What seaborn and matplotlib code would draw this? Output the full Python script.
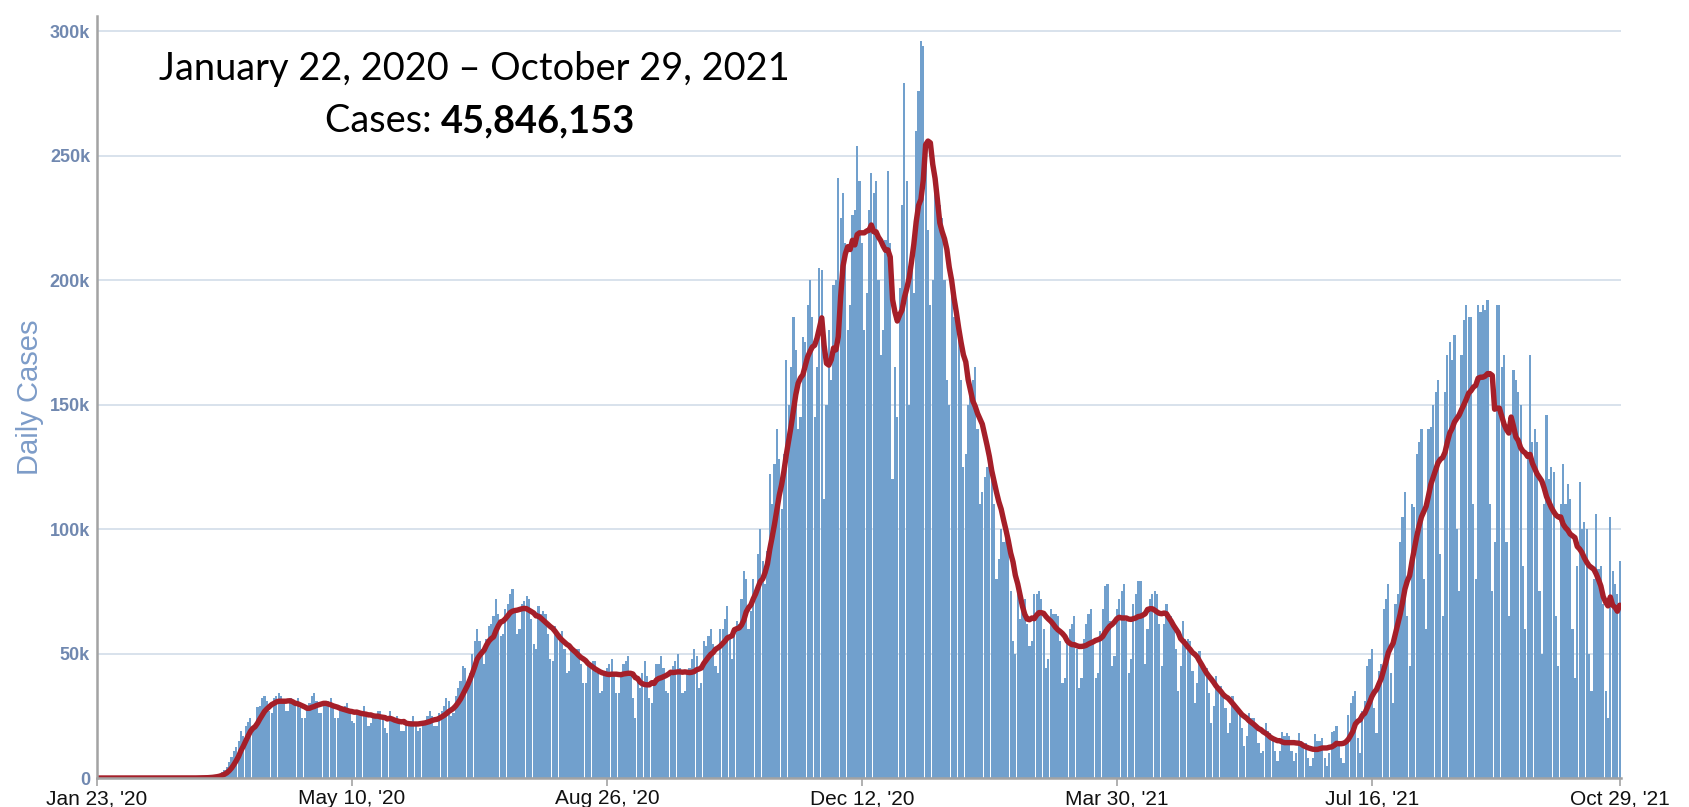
import numpy as np
import pandas as pd
import seaborn as sns
import matplotlib.pyplot as plt

start_date = '2020-01-22'

# daily reported cases in thousands, one row per week (Wed..Tue)
daily_k = [
    0, 0, 0, 0, 0, 0, 0,
    0, 0, 0, 0, 0, 0, 0,
    0, 0, 0, 0, 0, 0, 0,
    0, 0, 0, 0, 0, 0, 0,
    0, 0, 0, 0, 0, 0, 0,
    0.01, 0.01, 0.02, 0.02, 0.02, 0.03, 0.04,
    0.05, 0.06, 0.1, 0.1, 0.12, 0.2, 0.3,
    0.5, 0.6, 0.9, 1.2, 1.6, 2.6, 3.1,
    4.5, 6.5, 8.5, 11, 12.5, 15, 19,
    17, 21, 22.5, 24, 21, 20, 28.5,
    29, 32, 33, 31, 27, 26, 32,
    33, 34, 33, 31, 27, 27, 32,
    30, 30, 32, 28, 24, 24, 28,
    30, 33, 34, 31, 26, 26, 30,
    30, 31, 32, 28, 24, 24, 27,
    28, 29, 30, 26, 23, 22, 27.5,
    26, 27, 29, 25, 21, 22, 25,
    25, 27, 27, 24, 20, 18, 27,
    23, 24, 25, 22, 19, 19, 22,
    22, 23, 25, 22, 19, 20, 23,
    23, 25, 27, 25, 21, 21, 26,
    27, 29, 32, 31, 25, 26, 33,
    36, 39, 45, 44, 38, 42, 50,
    55, 60, 55, 52, 46, 56, 61,
    62, 65, 72, 66, 57, 58, 68,
    70, 74, 76, 68, 58, 60, 70,
    71, 73, 72, 64, 54, 52, 69,
    66, 67, 66, 58, 48, 47, 61,
    57, 58, 59, 52, 42, 43, 53,
    51, 52, 52, 46, 38, 38, 45,
    46, 47, 47, 42, 34, 35, 43,
    44, 46, 48, 42, 34, 34, 42.5,
    46, 47, 49, 42, 32, 24, 40,
    36, 42, 47, 41, 32, 30, 38,
    46, 46, 49, 44, 35, 34, 43.5,
    45, 47, 50, 44, 34, 35, 42.5,
    44, 48, 52, 49, 36, 38, 55,
    53, 57, 60, 54, 45, 42, 60,
    60, 64, 69, 57, 48, 59, 63,
    62, 72, 83, 80, 60, 67, 80,
    76, 90, 100, 87, 78, 91, 122,
    110, 126, 140, 128, 108, 130, 168,
    150, 165, 185, 172, 140, 145, 177,
    175, 190, 200, 185, 145, 165, 205,
    204, 112, 150, 180, 160, 198, 200,
    241, 225, 235, 215, 180, 190, 226,
    228, 254, 240, 215, 180, 195, 228,
    243, 235, 240, 200, 170, 180, 216,
    244, 215, 120, 165, 145, 197, 230,
    279, 240, 150, 210, 195, 260, 276,
    296, 294, 250, 220, 190, 200, 236,
    235, 230, 225, 200, 160, 150, 200,
    185, 190, 180, 160, 125, 130, 150,
    155, 160, 165, 140, 110, 115, 121,
    125, 128, 125, 110, 80, 88, 100,
    95, 100, 95, 75, 55, 50, 76,
    64, 68, 72, 62, 53, 55, 74,
    74, 75, 72, 60, 44, 48, 68,
    66, 66, 65, 55, 38, 40, 55,
    60, 62, 65, 52, 36, 40, 56,
    62, 66, 68, 55, 40, 42, 59,
    68, 77, 78, 63, 45, 49, 68,
    72, 75, 78, 63, 42, 48, 70,
    74, 79, 79, 66, 46, 60, 72,
    74, 75, 74, 62, 45, 62, 70,
    63, 65, 62, 52, 35, 45, 63,
    56, 56, 55, 43, 30, 38, 51,
    45, 44, 44, 34, 22, 29, 41,
    37, 37, 35, 28, 18, 22, 33,
    29, 29, 27, 20, 13, 17, 26,
    24, 24, 21, 14, 10, 11, 22,
    19, 18, 17, 11, 7, 11, 18.5,
    17, 18, 17, 11, 7, 10, 18,
    15, 13, 14, 8, 5, 8, 17.5,
    15, 15, 16, 8, 5, 10, 18.5,
    19, 21, 15, 8, 6, 14, 25.5,
    30, 33, 35, 16, 10, 27, 31,
    45, 48, 52, 28, 18, 43, 46,
    68, 72, 78, 42, 30, 70, 74,
    95, 105, 115, 65, 45, 110, 109,
    130, 135, 140, 80, 60, 140, 141,
    150, 155, 160, 90, 65, 155, 170,
    175, 168, 178, 100, 75, 170, 184,
    190, 185, 185, 110, 80, 190, 187,
    190, 188, 192, 110, 75, 95, 190,
    190, 165, 170, 95, 65, 140, 164,
    160, 155, 150, 85, 60, 130, 170,
    135, 140, 135, 75, 50, 110, 146,
    120, 125, 123, 65, 45, 110, 126,
    110, 118, 112, 60, 40, 85, 119,
    100, 103, 100, 50, 35, 80, 106,
    84, 85, 70, 35, 24, 105, 83,
    78, 74, 87,
]

tick_dates = ['2020-01-23', '2020-05-10', '2020-08-26', '2020-12-12',
              '2021-03-30', '2021-07-16', '2021-10-29']
tick_labels = ["Jan 23, '20", "May 10, '20", "Aug 26, '20", "Dec 12, '20",
               "Mar 30, '21", "Jul 16, '21", "Oct 29, '21"]
y_ticks_k = [0, 50, 100, 150, 200, 250, 300]

period_text = 'January 22, 2020 \u2013 October 29, 2021'
total_cases = '45,846,153'

df = pd.DataFrame({'cases': np.array(daily_k, dtype=float) * 1000})
df['date'] = pd.date_range(start_date, periods=len(df), freq='D')
df['day'] = (df['date'] - df['date'].iloc[0]).dt.days
df['avg7'] = df['cases'].rolling(7, min_periods=1).mean()

t0 = pd.Timestamp(start_date)
tick_pos = [(pd.Timestamp(d) - t0).days for d in tick_dates]

sns.set_style('white')
plt.rcParams['font.family'] = ['Liberation Sans', 'DejaVu Sans']

fig = plt.figure(figsize=(16.89, 8.07), dpi=100)
ax = fig.add_axes([0.0574, 0.0359, 0.9023, 0.944])

sns.barplot(data=df, x='day', y='cases', native_scale=True, color='#71a0cd',
            saturation=1, width=0.92, errorbar=None, linewidth=0, ax=ax)
sns.lineplot(data=df, x='day', y='avg7', color='#a51f29', linewidth=3.9, ax=ax)

ax.set_xlim(tick_pos[0], tick_pos[-1] + 0.5)
ax.set_ylim(0, 306000)
ax.set_xticks(tick_pos)
ax.set_xticklabels(tick_labels, fontsize=15, color='#111111')
ax.set_yticks([v * 1000 for v in y_ticks_k])
ax.set_yticklabels(['0' if v == 0 else f'{v}k' for v in y_ticks_k],
                   fontsize=13, fontweight='bold', color='#7088b0')
ax.set_xlabel('')
ax.set_ylabel('Daily Cases', fontsize=21, color='#7d9cc8', labelpad=4)

ax.yaxis.grid(True, color='#d6dfea', linewidth=1.3)
ax.xaxis.grid(False)
ax.set_axisbelow(True)
for side in ['top', 'right']:
    ax.spines[side].set_visible(False)
for side in ['left', 'bottom']:
    ax.spines[side].set_color('#a3a3a3')
    ax.spines[side].set_linewidth(1.8)
ax.tick_params(axis='x', length=6, width=1.2, color='#a3a3a3', pad=2, bottom=True)
ax.tick_params(axis='y', length=0, pad=5, left=False)

fig.text(0.281, 0.914, period_text, ha='center', va='center',
         fontsize=27.4, family='Lato', color='black')
fig.text(0.2613, 0.850, 'Cases: ', ha='right', va='center',
         fontsize=27.4, family='Lato', color='black')
fig.text(0.2613, 0.850, total_cases, ha='left', va='center',
         fontsize=27.4, family='Lato', fontweight='bold', color='black')

fig.savefig('out.png', dpi=100)
